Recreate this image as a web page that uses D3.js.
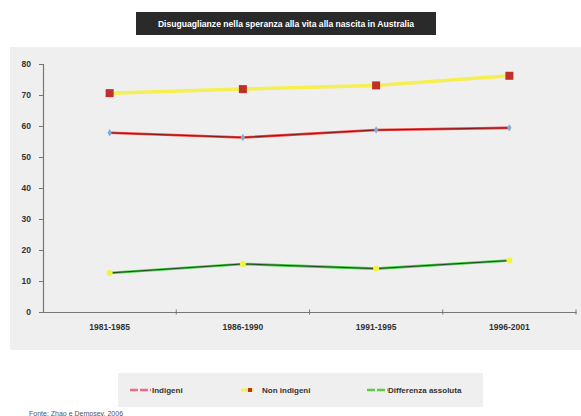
<!DOCTYPE html>
<html>
<head>
<meta charset="utf-8">
<script src="https://cdn.jsdelivr.net/npm/d3@7"></script>
<style>
  html, body { margin: 0; padding: 0; background: #ffffff; }
  svg { display: block; font-family: "Liberation Sans", Arial, sans-serif; }
</style>
</head>
<body>
<svg id="chart" width="581" height="416"></svg>
<script>
// Periods on the x axis
const periods = ["1981-1985", "1986-1990", "1991-1995", "1996-2001"];
// Life expectancy at birth (years)
const indigeni = [57.8, 56.3, 58.7, 59.4];
const nonIndigeni = [70.6, 71.9, 73.1, 76.2];
const differenza = [12.6, 15.5, 14.0, 16.6];
const yTicks = [0, 10, 20, 30, 40, 50, 60, 70, 80];
const legendLabels = ["Indigeni", "Non  indigeni", "Differenza assoluta"];
const titleText = "Disuguaglianze nella speranza alla vita alla nascita in Australia";
const sourceText = "Fonte: Zhao e Dempsey, 2006";

const svg = d3.select("#chart");
const FONT = "Liberation Sans, Arial, sans-serif";

// Title box
svg.append("rect").attr("x", 136).attr("y", 12).attr("width", 300).attr("height", 23)
  .attr("fill", "#2a2a2a");
svg.append("text").attr("x", 286).attr("y", 26.5).attr("text-anchor", "middle")
  .attr("fill", "#ffffff").attr("font-size", 8.6).attr("font-weight", "bold")
  .text(titleText);

// Plot panel background
svg.append("rect").attr("x", 10).attr("y", 47).attr("width", 571).attr("height", 303)
  .attr("fill", "#efefef");

const x = d3.scaleBand().domain(periods).range([43, 576]);
const y = d3.scaleLinear().domain([0, 80]).range([312, 64]);
const cx = d => x(d) + x.bandwidth() / 2;

// Axes
const yAxis = d3.axisLeft(y).tickValues(yTicks).tickSize(4).tickPadding(8);
const gy = svg.append("g").attr("transform", "translate(43,0)").call(yAxis);
gy.select(".domain").attr("stroke", "#777").attr("stroke-width", 1.2);
gy.selectAll(".tick line").attr("stroke", "#777");
gy.selectAll(".tick text").attr("font-size", 8.5).attr("font-weight", "bold").attr("fill", "#333")
  .attr("font-family", FONT);

const xAxis = d3.axisBottom(x).tickSize(0).tickPadding(12);
const gx = svg.append("g").attr("transform", "translate(0,312)").call(xAxis);
gx.select(".domain").attr("stroke", "#777").attr("stroke-width", 1.2);
gx.selectAll(".tick text").attr("font-size", 8.5).attr("font-weight", "bold").attr("fill", "#333")
  .attr("font-family", FONT);
// Category separators on the x axis
const seps = periods.slice(1).map(p => x(p)).concat([x.range()[1]]);
svg.append("g").selectAll("line").data(seps).join("line")
  .attr("x1", d => d).attr("x2", d => d).attr("y1", 309.5).attr("y2", 314.5)
  .attr("stroke", "#777");

const line = d3.line().x((d, i) => cx(periods[i])).y(d => y(d));

// Non indigeni: yellow line with square markers
svg.append("path").datum(nonIndigeni).attr("d", line).attr("fill", "none")
  .attr("stroke", "#f6ef50").attr("stroke-width", 3.5);
svg.append("g").selectAll("rect").data(nonIndigeni).join("rect")
  .attr("x", (d, i) => cx(periods[i]) - 4).attr("y", d => y(d) - 4)
  .attr("width", 8).attr("height", 8).attr("fill", "#c0302a");

// Indigeni: red line with dark core and blue markers
svg.append("path").datum(indigeni).attr("d", line).attr("fill", "none")
  .attr("stroke", "#ef4040").attr("stroke-width", 2.6);
svg.append("path").datum(indigeni).attr("d", line).attr("fill", "none")
  .attr("stroke", "#7a1515").attr("stroke-width", 0.9);
svg.append("g").selectAll("path").data(indigeni).join("path")
  .attr("d", d3.symbol(d3.symbolDiamond, 16)())
  .attr("transform", (d, i) => `translate(${cx(periods[i])},${y(d)})`)
  .attr("fill", "#79aee0");

// Differenza assoluta: green line with dark core and yellow markers
svg.append("path").datum(differenza).attr("d", line).attr("fill", "none")
  .attr("stroke", "#45c845").attr("stroke-width", 2.6);
svg.append("path").datum(differenza).attr("d", line).attr("fill", "none")
  .attr("stroke", "#1b3d1b").attr("stroke-width", 0.9);
svg.append("g").selectAll("circle").data(differenza).join("circle")
  .attr("cx", (d, i) => cx(periods[i])).attr("cy", d => y(d)).attr("r", 3)
  .attr("fill", "#f4f43a");

// Legend
svg.append("rect").attr("x", 118).attr("y", 373).attr("width", 365).attr("height", 34)
  .attr("fill", "#efefef");
const lg = svg.append("g").attr("font-size", 8).attr("font-weight", "bold").attr("fill", "#333")
  .attr("font-family", FONT);
// Indigeni sample
lg.append("line").attr("x1", 130).attr("x2", 151).attr("y1", 390).attr("y2", 390)
  .attr("stroke", "#ee6a8a").attr("stroke-width", 2.5).attr("stroke-dasharray", "8,2");
lg.append("text").attr("x", 152).attr("y", 393).text(legendLabels[0]);
// Non indigeni sample
lg.append("line").attr("x1", 241).attr("x2", 254).attr("y1", 390).attr("y2", 390)
  .attr("stroke", "#f6ef50").attr("stroke-width", 3);
lg.append("rect").attr("x", 248).attr("y", 388).attr("width", 4).attr("height", 4).attr("fill", "#c0302a");
lg.append("text").attr("x", 262).attr("y", 393).text(legendLabels[1]);
// Differenza sample
lg.append("line").attr("x1", 367).attr("x2", 388).attr("y1", 390).attr("y2", 390)
  .attr("stroke", "#5ccc3c").attr("stroke-width", 2.5).attr("stroke-dasharray", "8,2");
lg.append("text").attr("x", 388).attr("y", 393).text(legendLabels[2]);

// Source note
svg.append("text").attr("x", 29).attr("y", 416).attr("font-size", 7).attr("fill", "#555")
  .attr("font-family", FONT).text(sourceText);
</script>
</body>
</html>
